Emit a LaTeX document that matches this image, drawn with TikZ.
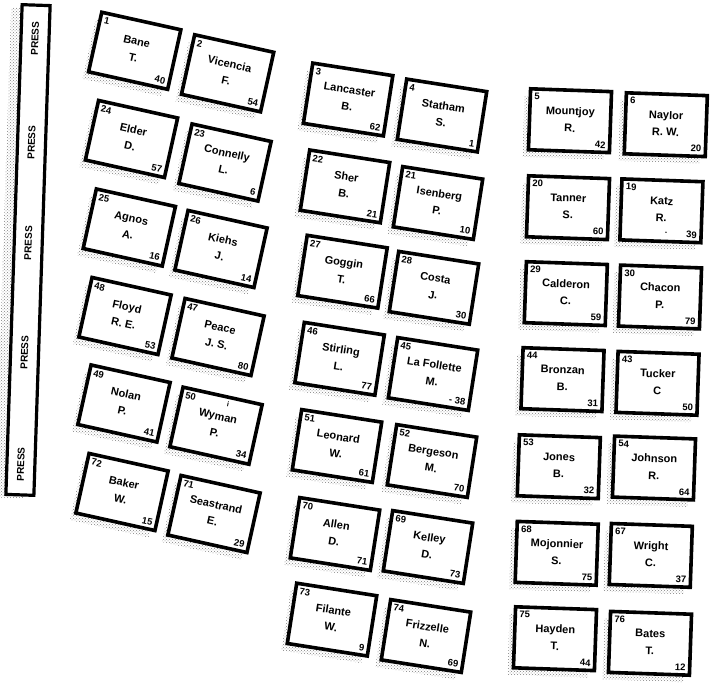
\documentclass[tikz,border=0pt]{standalone}
\usepackage{fontspec}
\setmainfont{Liberation Sans}[BoldFont={Liberation Sans Bold}]
\usetikzlibrary{calc,shadows,patterns}

% one desk: angle, centre, seat number, name, score
\newcommand{\desk}[5]{%
  \node[desk, rotate=#1] (d#3) at (#2) {};
  \node[seatno, rotate=#1, anchor=north west] (d#3t) at (d#3.north west) {#3};
  \node[seatno, rotate=#1, anchor=south east] (d#3b) at (d#3.south east) {#5};
  \node[pname, rotate=#1] (d#3n) at ($(d#3.center)!0.04!(d#3.north)$) {#4};
}

\begin{document}
\begin{tikzpicture}[
  x=1pt, y=-1pt,
  font=\bfseries,
  speckle/.style={pattern=crosshatch dots, pattern color=black!50},
  desk/.style={rectangle, draw=black, line width=3.6pt, fill=white,
               minimum width=81pt, minimum height=61pt, inner sep=0pt, outer sep=0pt,
               general shadow={shadow xshift=-6pt, shadow yshift=-7pt, speckle}},
  pressbar/.style={rectangle, draw=black, line width=3.2pt, fill=white,
                   minimum width=28pt, minimum height=490pt, inner sep=0pt,
                   general shadow={shadow xshift=-11pt, shadow yshift=-3pt, speckle}},
  seatno/.style={font=\fontsize{9.5}{10}\selectfont\bfseries, inner sep=4pt},
  pname/.style={font=\fontsize{11}{17}\selectfont\bfseries, align=center, inner sep=0pt},
  pressword/.style={font=\fontsize{10}{12}\selectfont\bfseries, inner sep=0pt},
  stray/.style={font=\fontsize{7}{8}\selectfont\bfseries, inner sep=0pt}
]
\useasboundingbox (0,0) rectangle (713,688);

% press bar
\node[pressbar, rotate=-1.9] (bar) at (28,250) {};
\node[pressword, rotate=88.1] (p1) at ($(bar.north)!0.071!(bar.south)$) {PRESS};
\node[pressword, rotate=88.1] (p2) at ($(bar.north)!0.282!(bar.south)$) {PRESS};
\node[pressword, rotate=88.1] (p3) at ($(bar.north)!0.486!(bar.south)$) {PRESS};
\node[pressword, rotate=88.1] (p4) at ($(bar.north)!0.708!(bar.south)$) {PRESS};
\node[pressword, rotate=88.1] (p5) at ($(bar.north)!0.935!(bar.south)$) {PRESS};

% left block
\desk{-12.5}{134.7,50.8}{1}{Bane\\T.}{40}
\desk{-12.5}{227.6,73.3}{2}{Vicencia\\F.}{54}
\desk{-12.5}{131.5,139}{24}{Elder\\D.}{57}
\desk{-12.5}{225,162.5}{23}{Connelly\\L.}{6}
\desk{-12.5}{129.3,227.5}{25}{Agnos\\A.}{16}
\desk{-12.5}{221,249}{26}{Kiehs\\J.}{14}
\desk{-12.5}{125,316}{48}{Floyd\\R. E.}{53}
\desk{-12.5}{218,337}{47}{Peace\\J. S.}{80}
\desk{-12.5}{124,403.5}{49}{Nolan\\P.}{41}
\desk{-12.5}{216,425.7}{50}{Wyman\\P.}{34}
\desk{-12.5}{122,492}{72}{Baker\\W.}{15}
\desk{-12.5}{214,514}{71}{Seastrand\\E.}{29}
\node[stray, rotate=-12.5] (d50i) at (228,404) {i};

% middle block
\desk{-8.9}{348.1,99.5}{3}{Lancaster\\B.}{62}
\desk{-8.9}{442,115.5}{4}{Statham\\S.}{1}
\desk{-8.9}{345,186.4}{22}{Sher\\B.}{21}
\desk{-8.9}{438,203}{21}{Isenberg\\P.}{10}
\desk{-8.9}{342.5,271.7}{27}{Goggin\\T.}{66}
\desk{-8.9}{434,287.8}{28}{Costa\\J.}{30}
\desk{-8.9}{339.6,358.8}{46}{Stirling\\L.}{77}
\desk{-8.9}{433,374}{45}{La Follette\\M.}{- 38}
\desk{-8.9}{337,446}{51}{Leonard\\W.}{61}
\desk{-8.9}{432,461}{52}{Bergeson\\M.}{70}
\desk{-8.9}{335,534}{70}{Allen\\D.}{71}
\desk{-8.9}{428,547}{69}{Kelley\\D.}{73}
\desk{-8.9}{332,619.6}{73}{Filante\\W.}{9}
\desk{-8.9}{426,636}{74}{Frizzelle\\N.}{69}

% right block
\desk{-2}{570,120.7}{5}{Mountjoy\\R.}{42}
\desk{-2}{665.8,124.7}{6}{Naylor\\R. W.}{20}
\desk{-2}{568,207.7}{20}{Tanner\\S.}{60}
\desk{-2}{661.4,210.8}{19}{Katz\\R.}{39}
\desk{-2}{565.8,293.6}{29}{Calderon\\C.}{59}
\desk{-2}{660,297}{30}{Chacon\\P.}{79}
\desk{-2}{562.5,379.6}{44}{Bronzan\\B.}{31}
\desk{-2}{657.5,383.3}{43}{Tucker\\C}{50}
\desk{-2}{558.8,466.7}{53}{Jones\\B.}{32}
\desk{-2}{654,468}{54}{Johnson\\R.}{64}
\desk{-2}{556.7,553.3}{68}{Mojonnier\\S.}{75}
\desk{-2}{650.8,555.4}{67}{Wright\\C.}{37}
\desk{-2}{555,638.7}{75}{Hayden\\T.}{44}
\desk{-2}{650,643.3}{76}{Bates\\T.}{12}
\node[stray, rotate=-2] (d19m) at (666,233) {-};
\end{tikzpicture}
\end{document}
